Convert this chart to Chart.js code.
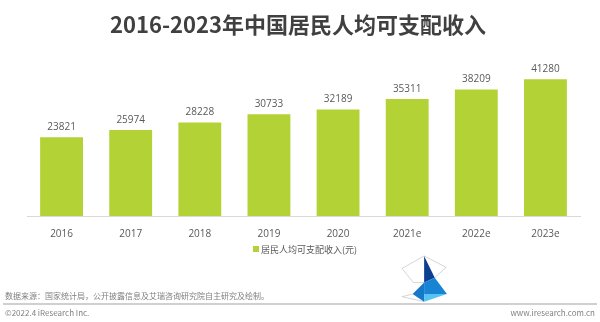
<!DOCTYPE html>
<html>
<head>
<meta charset="utf-8">
<script src="https://cdn.jsdelivr.net/npm/chart.js@4/dist/chart.umd.min.js"></script>
<style>
  body { margin: 0; background: #fff; }
  #wrap { position: relative; width: 600px; height: 322px; overflow: hidden; font-family: "Noto Sans CJK SC", "Noto Sans", sans-serif; }
  #title { position: absolute; left: 0; width: 596px; top: 7px; text-align: center; font-size: 22px; font-weight: bold; color: #404040; }
  #box { position: absolute; left: 0; top: 0; width: 600px; height: 244px; }
  #legend { position: absolute; left: 253px; top: 243px; font-size: 9px; color: #595959; }
  #legend span { display: inline-block; width: 6px; height: 6px; background: #b3d235; margin-right: 2px; vertical-align: 1px; }
  .foot { position: absolute; font-size: 8px; color: #7f7f7f; }
  #line { position: absolute; left: 3px; right: 3px; top: 303px; height: 2px; background: #d0d0d0; }
  #logo { position: absolute; left: 386px; top: 250px; }
</style>
</head>
<body>
<div id="wrap">
  <div id="box"><canvas id="myChart"></canvas></div>
  <div id="title">2016-2023年中国居民人均可支配收入</div>
  <div id="legend"><span></span>居民人均可支配收入(元)</div>
  <svg id="logo" width="80" height="69" viewBox="0 0 210 180">
    <g fill="none" stroke="#c8c8c8" stroke-width="2">
      <polyline points="100,15 42,48 72,85 100,85"/>
      <polyline points="100,15 158,45 128,72"/>
      <polyline points="70,115 42,122 100,135"/>
    </g>
    <polygon points="100,15 100,85 128,72" fill="#0d3f91"/>
    <polygon points="100,85 128,72 160,115 100,115" fill="#1a84d4"/>
    <polygon points="70,115 100,85 100,135" fill="#1678c8"/>
    <polygon points="100,115 160,115 100,135" fill="#56c3f2"/>
  </svg>
  <div class="foot" style="left:5px; top:290px;">数据来源：国家统计局，公开披露信息及艾瑞咨询研究院自主研究及绘制。</div>
  <div id="line"></div>
  <div class="foot" style="left:5px; top:307px;">©2022.4 iResearch Inc.</div>
  <div class="foot" style="right:5px; top:307px;">www.iresearch.com.cn</div>
</div>
<script>
// categories (years, e = estimate)
const yearLabels = ['2016', '2017', '2018', '2019', '2020', '2021e', '2022e', '2023e'];

// per capita disposable income, yuan
const incomeValues = [23821, 25974, 28228, 30733, 32189, 35311, 38209, 41280];

const barColor = '#b3d235';

// draws the number above each bar
const valueLabels = {
    id: 'valueLabels',
    afterDatasetsDraw(chart) {
        const ctx = chart.ctx;
        const meta = chart.getDatasetMeta(0);
        ctx.save();
        ctx.font = '10px "Open Sans", "Noto Sans", sans-serif';
        ctx.fillStyle = '#595959';
        ctx.textAlign = 'center';
        ctx.textBaseline = 'bottom';
        meta.data.forEach((bar, i) => {
            ctx.fillText(incomeValues[i], bar.x, bar.y - 5);
        });
        ctx.restore();
    }
};

new Chart(document.getElementById('myChart'), {
    type: 'bar',
    data: {
        labels: yearLabels,
        datasets: [{
            label: '居民人均可支配收入(元)',
            data: incomeValues,
            backgroundColor: barColor,
            categoryPercentage: 1,
            barPercentage: 0.62
        }]
    },
    options: {
        responsive: true,
        maintainAspectRatio: false,
        animation: false,
        layout: { padding: { left: 27, right: 20, top: 67, bottom: 0 } },
        plugins: {
            legend: { display: false },
            tooltip: { enabled: false }
        },
        scales: {
            x: {
                grid: { display: false },
                border: { color: '#d9d9d9', width: 1 },
                ticks: {
                    color: '#595959',
                    padding: 4,
                    font: { family: '"Open Sans", "Noto Sans", sans-serif', size: 10 }
                }
            },
            y: {
                display: false,
                min: 0,
                max: 45000
            }
        }
    },
    plugins: [valueLabels]
});
</script>
</body>
</html>
